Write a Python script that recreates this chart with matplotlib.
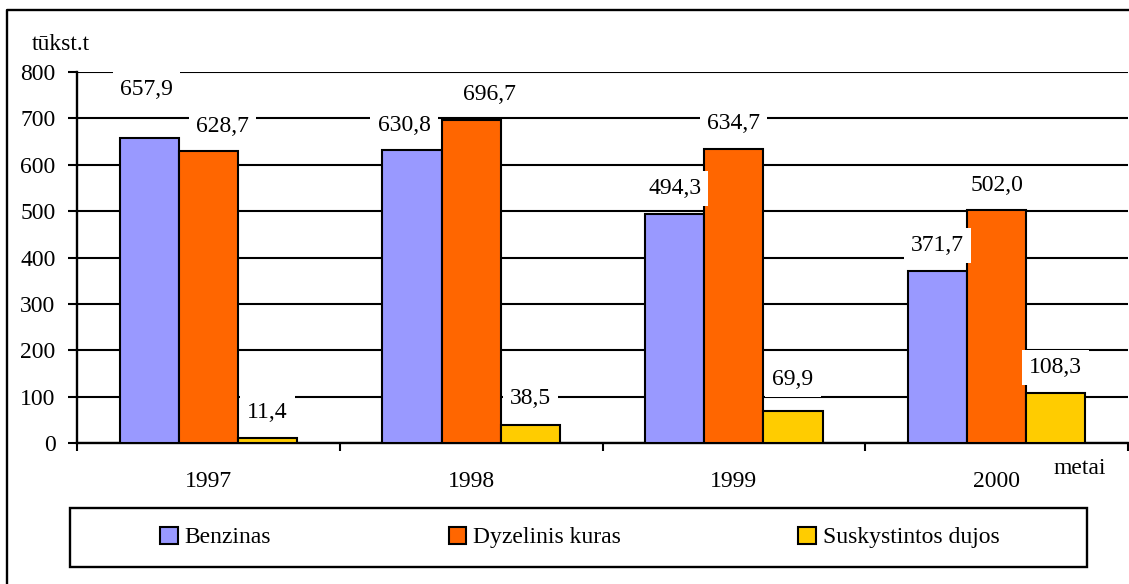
import numpy as np
import matplotlib
matplotlib.use('Agg')
import matplotlib.pyplot as plt
from matplotlib.lines import Line2D
from matplotlib.patches import Rectangle

plt.rcParams['font.family'] = ['Liberation Serif', 'DejaVu Serif']

years = ['1997', '1998', '1999', '2000']
series = ['Benzinas', 'Dyzelinis kuras', 'Suskystintos dujos']
benzinas = [657.9, 630.8, 494.3, 371.7]
dyzelinis = [628.7, 696.7, 634.7, 502.0]
dujos = [11.4, 38.5, 69.9, 108.3]
colors = ['#9999FF', '#FF6600', '#FFCC00']

# label nudges in pixels (dx, dy above bar top), Excel-style placement
nudge = {(0, 0): (-3, 48), (1, 0): (14, 25), (0, 1): (-8, 25),
         (1, 1): (18, 25), (2, 1): (0, 27), (2, 2): (0, 31)}

W, H = 1129, 584
fig = plt.figure(figsize=(W / 100, H / 100), dpi=100)
ax = fig.add_axes([77 / W, 1 - 443 / H, (1128 - 77) / W, (443 - 72) / H])

x = np.arange(len(years))
bw = 0.225
bars = []
for i, vals in enumerate([benzinas, dyzelinis, dujos]):
    b = ax.bar(x + (i - 1) * bw, vals, bw, color=colors[i], edgecolor='black',
               linewidth=1.5, label=series[i], zorder=3)
    bars.append(b)
    for j, v in enumerate(vals):
        dx, dy = nudge.get((i, j), (0, 25))
        ax.annotate(f'{v:.1f}'.replace('.', ','), xy=(x[j] + (i - 1) * bw, v),
                    xytext=(dx, dy), textcoords='offset pixels',
                    ha='center', va='center', fontsize=17, zorder=4,
                    bbox=dict(boxstyle='square,pad=0.3', fc='white', ec='none'))

ax.set_xlim(-0.5, 3.5)
ax.set_ylim(0, 800)
ax.set_yticks(range(0, 801, 100))
ax.yaxis.grid(True, color='black', linewidth=1.5)
ax.set_axisbelow(True)
ax.set_xticks(x)
ax.set_xticklabels(years)
ax.set_xticks(np.arange(-0.5, 4, 1), minor=True)
ax.tick_params(axis='x', which='major', length=0, pad=20, labelsize=17)
ax.tick_params(axis='x', which='minor', length=6, width=1.5)
ax.tick_params(axis='y', length=6.5, width=1.5, pad=9, labelsize=17)
for s in ['top', 'right']:
    ax.spines[s].set_visible(False)
for s in ['left', 'bottom']:
    ax.spines[s].set_linewidth(1.7)

fig.text(32 / W, 1 - 44 / H, 'tūkst.t', fontsize=17, va='center', ha='left')
fig.text(1053 / W, 1 - 468 / H, 'metai', fontsize=17, va='center', ha='left')

fig.legend(bars, series, loc='center', ncol=3, mode='expand', frameon=False,
           bbox_to_anchor=(160 / W, 1 - 567 / H, 840 / W, 59 / H),
           borderpad=0, borderaxespad=0, handlelength=0.75, handleheight=0.75,
           handletextpad=0.3, fontsize=17)
fig.add_artist(Rectangle((70 / W, 1 - 567 / H), 1017 / W, 59 / H,
                         transform=fig.transFigure, fill=False,
                         edgecolor='black', linewidth=1.7))
fig.add_artist(Line2D([7 / W, 7 / W, 1], [0, 1 - 10 / H, 1 - 10 / H],
                      transform=fig.transFigure, color='black', linewidth=1.7))

fig.savefig('out.png', dpi=100)
